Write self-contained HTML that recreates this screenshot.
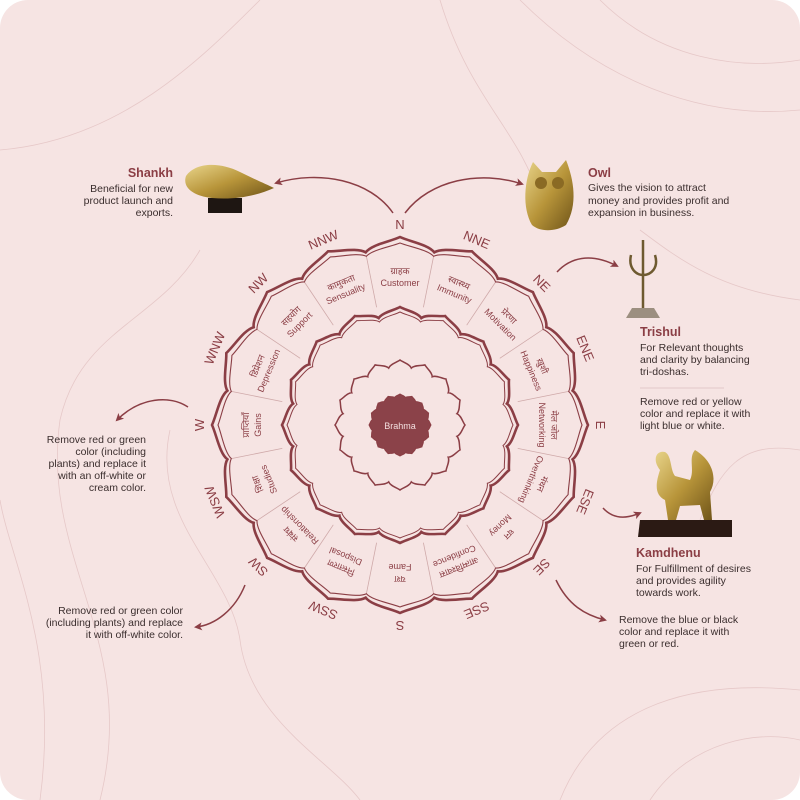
<!DOCTYPE html>
<html><head><meta charset="utf-8"><style>
html,body{margin:0;padding:0;background:#fff;}
svg{display:block;font-family:"Liberation Sans",sans-serif;}
.t{font-size:10.5px;fill:#3b2e2e;}
.h{font-size:12.5px;font-weight:bold;fill:#8b3e45;}
.d{font-size:13px;fill:#8b3e45;text-anchor:middle;}
.s{font-size:9px;fill:#8b3e45;text-anchor:middle;}
</style></head><body>
<svg id="sv" width="800" height="800" viewBox="0 0 800 800" xmlns="http://www.w3.org/2000/svg">
<defs>
<linearGradient id="gold" x1="0" y1="0" x2="1" y2="1"><stop offset="0" stop-color="#e8d48a"/><stop offset=".5" stop-color="#b8953a"/><stop offset="1" stop-color="#6e5318"/></linearGradient>
<marker id="ar" markerWidth="8" markerHeight="8" refX="6" refY="4" orient="auto" markerUnits="userSpaceOnUse"><path d="M0,0 L8,4 L0,8 L2,4 Z" fill="#8b3e45"/></marker>
</defs>
<rect x="0" y="0" width="800" height="800" rx="28" fill="#f6e4e3"/>
<g fill="none" stroke="#e6c8c8" stroke-width="0.8">
<path d="M0,150 C120,140 200,60 260,0"/><path d="M40,800 C60,650 10,560 0,500"/>
<path d="M100,800 C140,640 40,560 60,420 C80,330 160,320 200,250"/>
<path d="M520,0 C600,80 700,120 800,110"/><path d="M600,0 C660,60 740,70 800,60"/>
<path d="M560,800 C600,700 700,680 800,690"/><path d="M650,800 C690,740 760,730 800,740"/>
<path d="M170,430 C150,520 230,570 240,640 C250,720 330,760 360,800"/>
<path d="M800,300 C720,290 680,260 640,230"/><path d="M800,450 C740,440 720,470 700,520"/>
<path d="M440,0 C470,100 520,130 540,200"/>
</g>
<g id="lot"></g>
<text x="400" y="429" text-anchor="middle" font-size="9" fill="#f3dede">Brahma</text>
<g class="s">
<g transform="rotate(0 400 425)"><text x="400" y="274">ग्राहक</text><text x="400" y="286">Customer</text></g>
<g transform="rotate(22.5 400 425)"><text x="400" y="274">स्वास्थ्य</text><text x="400" y="286">Immunity</text></g>
<g transform="rotate(45 400 425)"><text x="400" y="274">प्रेरणा</text><text x="400" y="286">Motivation</text></g>
<g transform="rotate(67.5 400 425)"><text x="400" y="274">ख़ुशी</text><text x="400" y="286">Happiness</text></g>
<g transform="rotate(90 400 425)"><text x="400" y="274">मेल जोल</text><text x="400" y="286">Networking</text></g>
<g transform="rotate(112.5 400 425)"><text x="400" y="274">मंथन</text><text x="400" y="286">Overthinking</text></g>
<g transform="rotate(135 400 425)"><text x="400" y="274">धन</text><text x="400" y="286">Money</text></g>
<g transform="rotate(157.5 400 425)"><text x="400" y="274">आत्मविश्वास</text><text x="400" y="286">Confidence</text></g>
<g transform="rotate(180 400 425)"><text x="400" y="274">यश</text><text x="400" y="286">Fame</text></g>
<g transform="rotate(202.5 400 425)"><text x="400" y="274">निस्तारण</text><text x="400" y="286">Disposal</text></g>
<g transform="rotate(225 400 425)"><text x="400" y="274">संबंध</text><text x="400" y="286">Relationship</text></g>
<g transform="rotate(247.5 400 425)"><text x="400" y="274">शिक्षा</text><text x="400" y="286">Studies</text></g>
<g transform="rotate(270 400 425)"><text x="400" y="274">प्राप्तियाँ</text><text x="400" y="286">Gains</text></g>
<g transform="rotate(292.5 400 425)"><text x="400" y="274">डिप्रेशन</text><text x="400" y="286">Depression</text></g>
<g transform="rotate(315 400 425)"><text x="400" y="274">सहयोग</text><text x="400" y="286">Support</text></g>
<g transform="rotate(337.5 400 425)"><text x="400" y="274">कामुकता</text><text x="400" y="286">Sensuality</text></g>
</g>
<g class="d">
<text x="400" y="229" transform="rotate(0 400 425)">N</text>
<text x="400" y="229" transform="rotate(22.5 400 425)">NNE</text>
<text x="400" y="229" transform="rotate(45 400 425)">NE</text>
<text x="400" y="229" transform="rotate(67.5 400 425)">ENE</text>
<text x="400" y="229" transform="rotate(90 400 425)">E</text>
<text x="400" y="229" transform="rotate(112.5 400 425)">ESE</text>
<text x="400" y="229" transform="rotate(135 400 425)">SE</text>
<text x="400" y="229" transform="rotate(157.5 400 425)">SSE</text>
<text x="400" y="229" transform="rotate(180 400 425)">S</text>
<text x="400" y="229" transform="rotate(202.5 400 425)">SSW</text>
<text x="400" y="229" transform="rotate(225 400 425)">SW</text>
<text x="400" y="229" transform="rotate(247.5 400 425)">WSW</text>
<text x="400" y="229" transform="rotate(270 400 425)">W</text>
<text x="400" y="229" transform="rotate(292.5 400 425)">WNW</text>
<text x="400" y="229" transform="rotate(315 400 425)">NW</text>
<text x="400" y="229" transform="rotate(337.5 400 425)">NNW</text>
</g>
<g fill="none" stroke="#8b3e45" stroke-width="1.5" marker-end="url(#ar)">
<path d="M393,213 C370,180 320,170 276,183"/>
<path d="M405,213 C430,180 480,170 522,184"/>
<path d="M557,272 C570,258 590,252 617,266"/>
<path d="M188,407 C170,395 140,397 117,420"/>
<path d="M603,508 C612,518 624,520 640,513"/>
<path d="M245,585 C235,610 215,625 196,627"/>
<path d="M556,580 C568,605 585,615 605,620"/>
</g>
<rect x="208" y="198" width="34" height="15" fill="#1e1612"/>
<path d="M186,176 C196,162 220,162 240,172 C256,180 266,184 274,188 C256,196 235,200 212,198 C194,196 182,188 186,176 Z" fill="url(#gold)"/>
<path d="M533,162 L542,172 L556,172 L566,160 C574,180 578,205 566,225 C555,232 540,232 532,225 C522,208 524,180 533,162 Z" fill="url(#gold)"/>
<circle cx="541" cy="183" r="6" fill="#8a6a24"/><circle cx="558" cy="183" r="6" fill="#8a6a24"/>
<g fill="none" stroke="#6e5a30" stroke-width="2.5"><path d="M643,240 L643,308"/><path d="M631,255 C628,268 636,275 643,275 C651,275 659,268 655,255"/></g>
<path d="M632,308 L654,308 L660,318 L626,318 Z" fill="#9c8f80"/>
<path d="M640,520 L732,520 L732,537 L638,537 Z" fill="#2b1a14"/>
<path d="M660,470 C652,460 656,450 665,452 C672,456 670,470 675,476 L690,480 C695,470 688,458 695,450 C712,460 718,478 710,492 L712,520 L704,520 L700,505 L680,506 L676,520 L668,520 L665,500 C655,495 655,485 660,470 Z" fill="url(#gold)"/>
<g class="t" text-anchor="end">
<text class="h" x="173" y="177">Shankh</text>
<text x="173" y="192">Beneficial for new</text><text x="173" y="204">product launch and</text><text x="173" y="216">exports.</text>
<text x="146" y="443">Remove red or green</text><text x="146" y="455">color (including</text><text x="146" y="467">plants) and replace it</text><text x="146" y="479">with an off-white or</text><text x="146" y="491">cream color.</text>
<text x="183" y="614">Remove red or green color</text><text x="183" y="626">(including plants) and replace</text><text x="183" y="638">it with off-white color.</text>
</g>
<g class="t">
<text class="h" x="588" y="177">Owl</text>
<text x="588" y="191">Gives the vision to attract</text><text x="588" y="204">money and provides profit and</text><text x="588" y="216">expansion in business.</text>
<text class="h" x="640" y="336">Trishul</text>
<text x="640" y="351">For Relevant thoughts</text><text x="640" y="363">and clarity by balancing</text><text x="640" y="375">tri-doshas.</text>
<text x="640" y="405">Remove red or yellow</text><text x="640" y="417">color and replace it with</text><text x="640" y="429">light blue or white.</text>
<text class="h" x="636" y="557">Kamdhenu</text>
<text x="636" y="572">For Fulfillment of desires</text><text x="636" y="584">and provides agility</text><text x="636" y="596">towards work.</text>
<text x="619" y="623">Remove the blue or black</text><text x="619" y="635">color and replace it with</text><text x="619" y="647">green or red.</text>
</g>
<line x1="640" y1="388" x2="724" y2="388" stroke="#e3c9c9" stroke-width="1"/>
</svg>
<script>
(function(){
var cx=400,cy=425,NS="http://www.w3.org/2000/svg",g=document.getElementById("lot");
function p(r,a){var t=(a-90)*Math.PI/180;return (cx+r*Math.cos(t)).toFixed(1)+","+(cy+r*Math.sin(t)).toFixed(1);}
function lotus(rt,rv){var d="M"+p(rv,-11.25);var h=rt-rv;
for(var k=0;k<16;k++){var a=k*22.5;
d+=" C"+p(rv+h*0.55,a-9)+" "+p(rt-h*0.35,a-3)+" "+p(rt,a);
d+=" C"+p(rt-h*0.35,a+3)+" "+p(rv+h*0.55,a+9)+" "+p(rv,a+11.25);}
return d+"Z";}
function add(d,sw,fill){var e=document.createElementNS(NS,"path");e.setAttribute("d",d);e.setAttribute("fill",fill||"none");e.setAttribute("stroke","#8b3e45");e.setAttribute("stroke-width",sw);e.setAttribute("stroke-linejoin","miter");g.appendChild(e);}
for(var k=0;k<16;k++){var a=k*22.5+11.25;var l=document.createElementNS(NS,"path");l.setAttribute("d","M"+p(120,a)+" L"+p(172,a));l.setAttribute("stroke","#cfa9a9");l.setAttribute("stroke-width","0.8");g.appendChild(l);}
add(lotus(188,176),2.6);add(lotus(182,172),1.1);
add(lotus(118,109),2.6);add(lotus(113,105),1);
add(lotus(65,58),1.5);
add(lotus(31,28),1,"#8b4249");
})();
</script>
</body></html>
